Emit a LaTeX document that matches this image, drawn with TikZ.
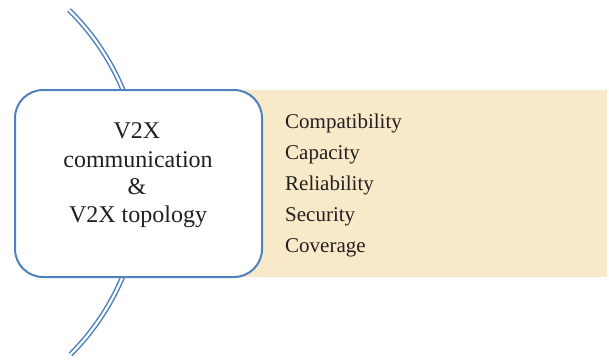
\documentclass[tikz,border=0pt]{standalone}
\usepackage{fontspec}
\setmainfont{Liberation Serif}
\definecolor{topblue}{RGB}{79,129,189}
\definecolor{beige}{RGB}{248,233,200}
\definecolor{ink}{RGB}{35,31,32}
\begin{document}
\begin{tikzpicture}[x=1pt,y=-1pt,
  boxtext/.style={anchor=base,inner sep=0pt,text=ink,font=\fontsize{24}{28}\selectfont},
  listtext/.style={anchor=base west,inner sep=0pt,text=ink,font=\fontsize{21}{25}\selectfont},
  mainbox/.style={draw=topblue,line width=2pt,fill=white,rounded corners=28pt,minimum width=247pt,minimum height=187pt,inner sep=0pt},
  band/.style={fill=beige,inner sep=0pt,minimum width=367pt,minimum height=187pt},
  railline/.style={draw=topblue,line width=1.5pt,double=white,double distance=2.2pt}]
\useasboundingbox (0,0) rectangle (609,359);
\node[band] (band) at (423.5,183.5) {};
\coordinate (top) at (69,10);
\draw[railline] (top) arc[start angle=-45.5,end angle=45,radius=242.5] coordinate (bot);
\node[mainbox] (box) at (138.5,183.5) {};
\node[boxtext] (t1) at (137,138) {V2X};
\node[boxtext] (t2) at (138,167) {communication};
\node[boxtext] (t3) at (137,194) {\&};
\node[boxtext] (t4) at (138,222) {V2X topology};
\node[listtext] (l1) at (285,128) {Compatibility};
\node[listtext] (l2) at (285,159) {Capacity};
\node[listtext] (l3) at (285,190) {Reliability};
\node[listtext] (l4) at (285,221) {Security};
\node[listtext] (l5) at (285,252) {Coverage};
\end{tikzpicture}
\end{document}
